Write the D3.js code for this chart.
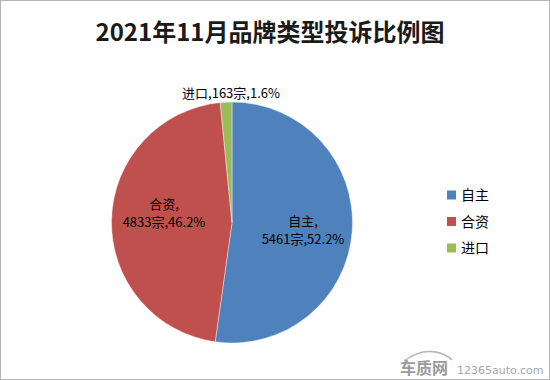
<!DOCTYPE html>
<html><head><meta charset="utf-8">
<script src="https://cdn.jsdelivr.net/npm/d3@7"></script>
<style>html,body{margin:0;padding:0;background:#fff;}svg{display:block;}</style>
</head><body>
<svg id="c" width="550" height="380"></svg>
<script>
const categories = ["自主", "合资", "进口"];
const counts = [5461, 4833, 163];
const percents = ["52.2%", "46.2%", "1.6%"];
const colors = ["#4F81BD", "#C0504D", "#9BBB59"];
const titleText = "2021年11月品牌类型投诉比例图";

const svg = d3.select("#c");
const W = 550, H = 380;
const font = "'Noto Sans CJK SC', 'Microsoft YaHei', sans-serif";

svg.append("rect").attr("x", 0.5).attr("y", 0.5).attr("width", W - 1).attr("height", H - 1)
  .attr("fill", "#fff").attr("stroke", "#b4b4b4").attr("stroke-width", 1);

svg.append("text").attr("x", 270).attr("y", 41).attr("text-anchor", "middle")
  .attr("font-family", font).attr("font-weight", "bold").attr("font-size", 24)
  .attr("fill", "#1a1a1a").text(titleText);

const cx = 232, cy = 222.5, r = 120.5;
const data = categories.map((c, i) => ({ cat: c, n: counts[i], p: percents[i], color: colors[i] }));
const pie = d3.pie().value(d => d.n).sort(null);
const arc = d3.arc().innerRadius(0).outerRadius(r);
const arcs = pie(data);
const g = svg.append("g").attr("transform", `translate(${cx},${cy})`);
g.selectAll("path").data(arcs).join("path").attr("d", arc).attr("fill", d => d.data.color)
  .attr("stroke", "#fff").attr("stroke-width", 0.4);

// labels
const lf = 13;
const lbl = (x, y, lines) => {
  const t = svg.append("text").attr("font-family", font).attr("font-size", lf).attr("fill", "#000")
    .attr("text-anchor", "middle");
  lines.forEach((l, i) => t.append("tspan").attr("x", x).attr("y", y + i * 18).text(l));
};
const a0 = arcs[0], a1 = arcs[1], a2 = arcs[2];
lbl(303, 226, [a0.data.cat + ",", a0.data.n + "宗," + a0.data.p]);
lbl(164, 209, [a1.data.cat + ",", a1.data.n + "宗," + a1.data.p]);
lbl(231, 98, [a2.data.cat + "," + a2.data.n + "宗," + a2.data.p]);

// legend
const lg = svg.append("g");
data.forEach((d, i) => {
  const y = 195 + i * 26.5;
  lg.append("rect").attr("x", 447).attr("y", y - 4.5).attr("width", 9).attr("height", 9).attr("fill", d.color);
  lg.append("text").attr("x", 461).attr("y", y + 5).attr("font-family", font).attr("font-size", 14)
    .attr("fill", "#000").text(d.cat);
});

// watermark
const wm = svg.append("g").attr("opacity", 0.75);
wm.append("path").attr("d", "M404,361 Q420,349 436,352 Q446,354 452,360").attr("fill", "none")
  .attr("stroke", "#9a9a9a").attr("stroke-width", 1.5);
wm.append("text").attr("x", 400).attr("y", 374).attr("font-family", font).attr("font-weight", "bold")
  .attr("font-size", 16).attr("fill", "#7a7a7a").text("车质网");
wm.append("text").attr("x", 457).attr("y", 374).attr("font-family", "'DejaVu Sans', sans-serif")
  .attr("font-size", 11).attr("fill", "#8a8a8a").text("12365auto.com");
</script>
</body></html>
